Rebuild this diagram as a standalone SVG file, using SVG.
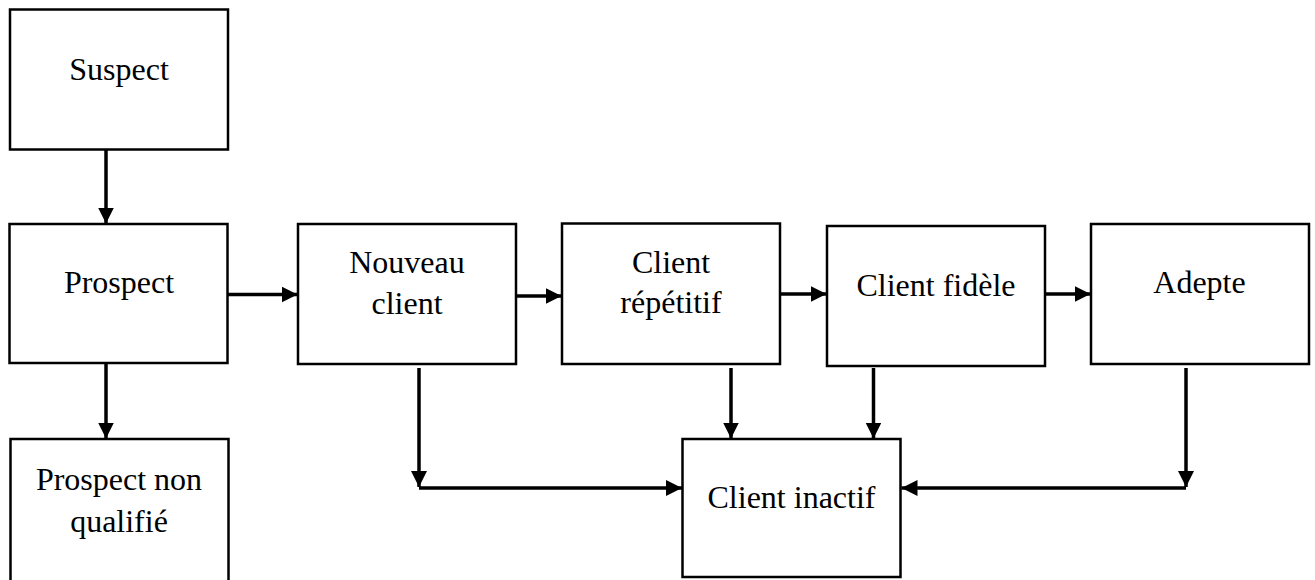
<svg xmlns="http://www.w3.org/2000/svg" width="1315" height="580" viewBox="0 0 1315 580">
  <defs>
    <marker id="arrow" markerUnits="userSpaceOnUse" markerWidth="17" markerHeight="17" viewBox="0 0 17 17" refX="16" refY="8.5" orient="auto">
      <path d="M0,0.5 L16,8.5 L0,16.5 Z" fill="#000"/>
    </marker>
    <style>
      .box { fill: #fff; stroke: #000; stroke-width: 2.5; }
      .label { font-family: "Liberation Serif", "Times New Roman", serif; font-size: 32px; fill: #000; text-anchor: middle; }
      .conn { fill: none; stroke: #000; stroke-width: 3.5; }
      .arr { marker-end: url(#arrow); }
    </style>
  </defs>
  <rect width="1315" height="580" fill="#fff"/>

  <g id="suspect">
    <rect class="box" x="10" y="9.5" width="218" height="140"/>
    <text class="label" x="119" y="80">Suspect</text>
  </g>
  <g id="prospect">
    <rect class="box" x="9.5" y="224" width="218" height="139"/>
    <text class="label" x="119" y="293">Prospect</text>
  </g>
  <g id="prospect-non-qualifie">
    <rect class="box" x="10.5" y="439" width="218" height="150"/>
    <text class="label" x="119" y="490">Prospect non</text>
    <text class="label" x="119" y="532">qualifié</text>
  </g>
  <g id="nouveau-client">
    <rect class="box" x="298" y="224" width="218" height="140"/>
    <text class="label" x="407" y="273">Nouveau</text>
    <text class="label" x="407" y="314">client</text>
  </g>
  <g id="client-repetitif">
    <rect class="box" x="562" y="223.5" width="218" height="140.5"/>
    <text class="label" x="671" y="273">Client</text>
    <text class="label" x="671" y="313">répétitif</text>
  </g>
  <g id="client-fidele">
    <rect class="box" x="827" y="226" width="218" height="140"/>
    <text class="label" x="936" y="296">Client fidèle</text>
  </g>
  <g id="adepte">
    <rect class="box" x="1091" y="224" width="218" height="140"/>
    <text class="label" x="1199.5" y="293">Adepte</text>
  </g>
  <g id="client-inactif">
    <rect class="box" x="682.5" y="439" width="218" height="138"/>
    <text class="label" x="791.5" y="508">Client inactif</text>
  </g>

  <g id="connectors">
    <line class="conn arr" x1="106" y1="150" x2="106" y2="223.5"/>
    <line class="conn arr" x1="106" y1="364" x2="106" y2="438.5"/>
    <line class="conn arr" x1="228" y1="294.5" x2="297.5" y2="294.5"/>
    <line class="conn arr" x1="517" y1="296" x2="561.5" y2="296"/>
    <line class="conn arr" x1="781" y1="294" x2="826.5" y2="294"/>
    <line class="conn arr" x1="1046" y1="294" x2="1090.5" y2="294"/>
    <line class="conn arr" x1="419" y1="368" x2="419" y2="487"/>
    <line class="conn arr" x1="419" y1="488" x2="682" y2="488"/>
    <line class="conn arr" x1="731" y1="368" x2="731" y2="438.5"/>
    <line class="conn arr" x1="873.5" y1="368" x2="873.5" y2="438.5"/>
    <line class="conn arr" x1="1186" y1="368" x2="1186" y2="487"/>
    <line class="conn arr" x1="1186" y1="488" x2="901.5" y2="488"/>
  </g>
</svg>
